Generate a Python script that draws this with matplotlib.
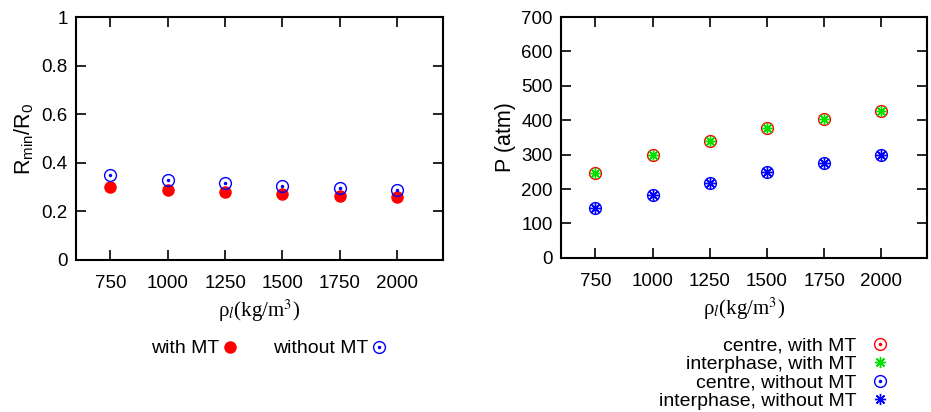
import matplotlib
matplotlib.use("Agg")
import matplotlib.pyplot as plt
from matplotlib.legend_handler import HandlerTuple

plt.rcParams['font.family'] = ['Liberation Sans', 'DejaVu Sans']
plt.rcParams['mathtext.fontset'] = 'custom'
plt.rcParams['mathtext.rm'] = 'Liberation Sans'
plt.rcParams['mathtext.it'] = 'Liberation Sans:italic'

# densidad del liquido (kg/m^3)
densidad = [750, 1000, 1250, 1500, 1750, 2000]

# radio minimo / radio inicial
rmin_con_mt = [0.302, 0.288, 0.279, 0.271, 0.265, 0.261]
rmin_sin_mt = [0.350, 0.330, 0.315, 0.304, 0.295, 0.290]

# presion (atm)
p_centro_con_mt = [248, 298, 341, 377, 405, 426]
p_inter_con_mt = [248, 298, 341, 377, 405, 426]
p_centro_sin_mt = [144, 184, 219, 251, 277, 299]
p_inter_sin_mt = [144, 184, 219, 251, 277, 299]

ROJO = '#ff0000'
VERDE = '#00e000'
AZUL = '#0000ff'
ASTER = (8, 2, 0)
TAM = 13.5

fig = plt.figure(figsize=(9.31, 4.12), dpi=100)
ax1 = fig.add_axes([0.0816, 0.369, 0.3942, 0.5897])
ax2 = fig.add_axes([0.6026, 0.374, 0.3931, 0.5847])


def estilo_ejes(ax):
    ax.set_xlim(600, 2200)
    ax.set_xticks(densidad)
    ax.tick_params(direction='in', length=7.5, width=1.2, top=True, right=True,
                   labelsize=TAM)
    ax.tick_params(axis='x', pad=11)
    ax.tick_params(axis='y', pad=6)
    for s in ax.spines.values():
        s.set_linewidth(1.5)
    ax.set_xlabel(r'ρ$_{l}$(kg/m$^3$)', family='Liberation Serif',
                  math_fontfamily='stix', fontsize=15, labelpad=4)


def circulo_punto(ax, x, y, color):
    a, = ax.plot(x, y, 'o', ms=8.5, mfc='none', mec=color, mew=1.0, ls='none')
    b, = ax.plot(x, y, 'o', ms=1.5, color=color, ls='none')
    return (a, b)


mapa = {tuple: HandlerTuple(ndivide=1, pad=0)}

# panel izquierdo
h1, = ax1.plot(densidad, rmin_con_mt, 'o', color=ROJO, ms=8, ls='none')
h2 = circulo_punto(ax1, densidad, rmin_sin_mt, AZUL)
estilo_ejes(ax1)
ax1.set_ylim(0, 1)
ax1.set_yticks([0, 0.2, 0.4, 0.6, 0.8, 1])
ax1.set_yticklabels(['0', '0.2', '0.4', '0.6', '0.8', '1'])
ax1.set_ylabel(r'R$_{\rm min}$/R$_0$', fontsize=15.5, labelpad=4)
ax1.legend([h1, h2], ['with MT', 'without MT'], ncol=2, frameon=False,
           markerfirst=False, handlelength=0.8, handletextpad=0.15,
           columnspacing=1.8, fontsize=14, handler_map=mapa,
           loc='center', bbox_to_anchor=(0.525, -0.365))

# panel derecho
g1 = circulo_punto(ax2, densidad, p_centro_con_mt, ROJO)
g2, = ax2.plot(densidad, p_inter_con_mt, marker=ASTER, ms=8, color=VERDE,
               mew=1.0, ls='none')
g3 = circulo_punto(ax2, densidad, p_centro_sin_mt, AZUL)
g4, = ax2.plot(densidad, p_inter_sin_mt, marker=ASTER, ms=8, color=AZUL,
               mew=1.0, ls='none')
estilo_ejes(ax2)
ax2.set_ylim(0, 700)
ax2.set_yticks(range(0, 701, 100))
ax2.set_ylabel('P (atm)', fontsize=15.5, labelpad=4)
ax2.legend([g1, g2, g3, g4],
           ['centre, with MT', 'interphase, with MT',
            'centre, without MT', 'interphase, without MT'],
           frameon=False, markerfirst=False, handlelength=1.0,
           handletextpad=0.7, labelspacing=0.05, fontsize=14,
           handler_map=mapa,
           loc='upper right', bbox_to_anchor=(0.945, -0.255))

fig.savefig('out.png', dpi=100)
